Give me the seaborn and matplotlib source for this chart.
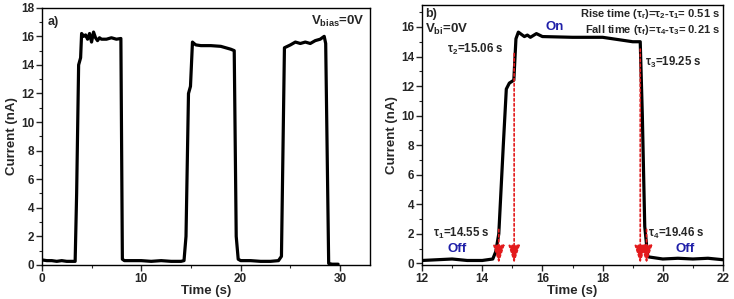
import matplotlib
matplotlib.use("Agg")
import matplotlib.pyplot as plt
import seaborn as sns
import pandas as pd
from matplotlib.ticker import MultipleLocator

sns.set_style("ticks")
plt.rcParams['font.family'] = ['Liberation Sans', 'DejaVu Sans']
plt.rcParams['font.weight'] = 'bold'
plt.rcParams['axes.labelweight'] = 'bold'
plt.rcParams['mathtext.fontset'] = 'custom'
plt.rcParams['mathtext.rm'] = 'Liberation Sans:bold'
plt.rcParams['mathtext.it'] = 'Liberation Sans:bold'
plt.rcParams['mathtext.bf'] = 'Liberation Sans:bold'
plt.rcParams['mathtext.default'] = 'bf'

# Panel a data
time_a = [0, 0.5, 1, 1.5, 2, 2.5, 3, 3.35, 3.5, 3.7, 3.9, 4.0, 4.2, 4.4, 4.6, 4.8, 5.0,
          5.2, 5.4, 5.6, 5.8, 6.0, 6.5, 7.0, 7.5, 7.95, 8.1, 8.3, 9, 10, 11, 12, 13, 14,
          14.3, 14.5, 14.75, 14.95, 15.15, 15.3, 15.5, 16, 17, 18, 18.5, 19.0, 19.35, 19.55,
          19.75, 20, 21, 22, 23, 23.8, 24.1, 24.4, 24.7, 25, 25.5, 26, 26.5, 27, 27.5, 28,
          28.4, 28.55, 28.85, 29.2, 29.8]
current_a = [0.35, 0.3, 0.3, 0.25, 0.3, 0.25, 0.25, 0.25, 5, 14, 14.5, 16.2, 16.0, 16.1,
             15.8, 16.2, 15.6, 16.3, 15.9, 15.7, 15.9, 15.8, 15.8, 15.9, 15.8, 15.85, 0.4,
             0.3, 0.3, 0.3, 0.25, 0.3, 0.25, 0.25, 0.3, 2, 12, 12.5, 15.6, 15.5, 15.4, 15.35,
             15.35, 15.3, 15.2, 15.1, 15.0, 2, 0.4, 0.3, 0.3, 0.25, 0.25, 0.3, 0.6, 15.2,
             15.3, 15.4, 15.6, 15.5, 15.6, 15.5, 15.7, 15.8, 16.0, 15.5, 0.1, 0.05, 0.05]

# Panel b data
time_b = [12, 12.5, 13, 13.5, 14, 14.35, 14.45, 14.55, 14.7, 14.8, 14.9, 15.05, 15.12,
          15.2, 15.3, 15.4, 15.5, 15.6, 15.8, 16.0, 17, 18, 18.5, 19.0, 19.25, 19.32, 19.4,
          19.5, 20, 20.5, 21, 21.5, 22]
current_b = [0.2, 0.25, 0.3, 0.2, 0.2, 0.3, 0.8, 2.0, 8.0, 11.8, 12.2, 12.4, 15.2, 15.65,
             15.5, 15.35, 15.45, 15.3, 15.55, 15.35, 15.3, 15.3, 15.15, 15.0, 15.0, 10.0, 2.5,
             0.45, 0.3, 0.35, 0.3, 0.35, 0.25]

tau_x = [14.55, 15.06, 19.25, 19.46]
tau_top = [2.3, 14.2, 14.5, 2.3]

fig = plt.figure(figsize=(7.34, 2.99), dpi=100)
ax1 = fig.add_axes([0.057, 0.114, 0.447, 0.86])
ax2 = fig.add_axes([0.575, 0.114, 0.410, 0.870])

tick_fs = 8.5
label_fs = 9.5

sns.lineplot(data=pd.DataFrame({"t": time_a, "i": current_a}), x="t", y="i", ax=ax1,
             color="black", lw=2.3, sort=False)
ax1.set_xlim(0, 33)
ax1.set_ylim(0, 18)
ax1.xaxis.set_major_locator(MultipleLocator(10))
ax1.xaxis.set_minor_locator(MultipleLocator(5))
ax1.yaxis.set_major_locator(MultipleLocator(2))
ax1.yaxis.set_minor_locator(MultipleLocator(1))
ax1.set_xlabel("Time (s)", fontsize=label_fs, labelpad=0)
ax1.set_ylabel("Current (nA)", fontsize=label_fs, labelpad=2)
ax1.text(0.018, 0.945, "a)", transform=ax1.transAxes, ha="left", va="center", fontsize=9)
ax1.text(0.985, 0.945, r"V$_{bias}$=0V", transform=ax1.transAxes, ha="right",
         va="center", fontsize=9.5)

sns.lineplot(data=pd.DataFrame({"t": time_b, "i": current_b}), x="t", y="i", ax=ax2,
             color="black", lw=2.3, sort=False)
ax2.set_xlim(12, 22)
ax2.set_ylim(-0.1, 17.5)
ax2.xaxis.set_major_locator(MultipleLocator(2))
ax2.xaxis.set_minor_locator(MultipleLocator(1))
ax2.yaxis.set_major_locator(MultipleLocator(2))
ax2.yaxis.set_minor_locator(MultipleLocator(1))
ax2.set_xlabel("Time (s)", fontsize=label_fs, labelpad=0)
ax2.set_ylabel("Current (nA)", fontsize=label_fs, labelpad=2)

for xv, yt in zip(tau_x, tau_top):
    ax2.annotate("", xy=(xv, 0.0), xytext=(xv, yt),
                 arrowprops=dict(arrowstyle="-|>,head_width=0.35,head_length=1.1",
                                 mutation_scale=10, shrinkA=0, shrinkB=0,
                                 color="#e31a1c", lw=1.2, ls=(0, (1.5, 1.5))))

txt_fs = 8.3
blue = "#1f1fa8"
ax2.text(0.01, 0.965, "b)", transform=ax2.transAxes, ha="left", va="center", fontsize=9)
ax2.text(12.1, 15.85, r"V$_{bi}$=0V", fontsize=9.5, ha="left", va="center")
ax2.text(12.83, 14.45, r"$\tau_2$=15.06 s", fontsize=txt_fs, ha="left", va="center")
ax2.text(16.1, 16.0, "On", fontsize=9.5, color=blue, ha="left", va="center")
ax2.text(0.99, 0.965, r"Rise time ($\tau_r$)=$\tau_2$-$\tau_1$= 0.51 s", transform=ax2.transAxes,
         ha="right", va="center", fontsize=8)
ax2.text(0.99, 0.902, r"Fall time ($\tau_f$)=$\tau_4$-$\tau_3$= 0.21 s", transform=ax2.transAxes,
         ha="right", va="center", fontsize=8)
ax2.text(19.4, 13.6, r"$\tau_3$=19.25 s", fontsize=txt_fs, ha="left", va="center")
ax2.text(12.37, 2.0, r"$\tau_1$=14.55 s", fontsize=txt_fs, ha="left", va="center")
ax2.text(13.17, 0.95, "Off", fontsize=9.5, color=blue, ha="center", va="center")
ax2.text(19.5, 2.0, r"$\tau_4$=19.46 s", fontsize=txt_fs, ha="left", va="center")
ax2.text(20.75, 0.95, "Off", fontsize=9.5, color=blue, ha="center", va="center")

for ax in (ax1, ax2):
    for s in ax.spines.values():
        s.set_linewidth(1.0)
        s.set_color("black")
    ax.tick_params(which="major", length=4, width=1, labelsize=tick_fs, pad=1.5)
    ax.tick_params(which="minor", length=2, width=0.8)
    for lab in ax.get_xticklabels() + ax.get_yticklabels():
        lab.set_fontweight("bold")

fig.savefig("out.png", dpi=100)
